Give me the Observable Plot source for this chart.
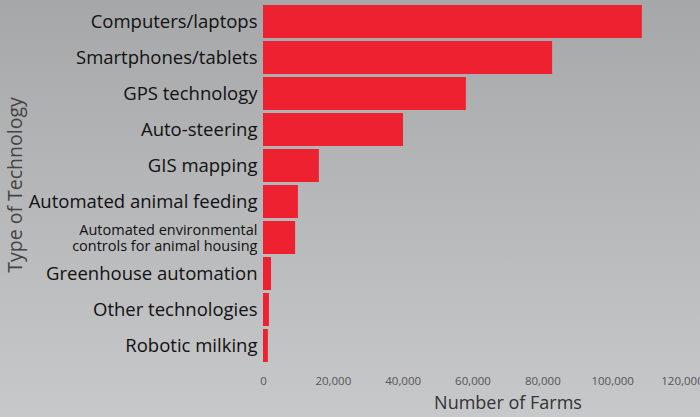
<!DOCTYPE html>
<html>
<head>
<meta charset="utf-8">
<script src="https://cdn.jsdelivr.net/npm/d3@7"></script>
<script src="https://cdn.jsdelivr.net/npm/@observablehq/plot@0.6"></script>
<style>
  html, body { margin: 0; padding: 0; }
  body { width: 700px; height: 417px; overflow: hidden;
    background: linear-gradient(to bottom, #a6a7a9 0%, #b4b5b7 40%, #c7c8ca 100%); }
  #chart svg { display: block; background: transparent; }
</style>
</head>
<body>
<div id="chart"></div>
<script>
const technologies = [
  "Computers/laptops",
  "Smartphones/tablets",
  "GPS technology",
  "Auto-steering",
  "GIS mapping",
  "Automated animal feeding",
  "Automated environmental\ncontrols for animal housing",
  "Greenhouse automation",
  "Other technologies",
  "Robotic milking"
];
const farms = [108500, 82800, 58100, 40100, 16000, 10000, 9200, 2300, 1700, 1400];
const xTicks = [0, 20000, 40000, 60000, 80000, 100000, 120000];

const data = technologies.map((t, i) => ({tech: t, farms: farms[i]}));
const fmt = d3.format(",");

const plot = Plot.plot({
  width: 700,
  height: 417,
  marginLeft: 263,
  marginRight: 18,
  marginTop: 1,
  marginBottom: 51,
  style: {fontFamily: "'Open Sans', sans-serif", background: "transparent"},
  x: {domain: [0, 120000], ticks: xTicks, label: null},
  y: {domain: technologies, label: null, padding: 0.08},
  marks: [
    Plot.ruleX(xTicks, {y1: -3, y2: 363, stroke: "#dcdcdc", strokeWidth: 1.8, y: null}),
    Plot.barX(data, {x: "farms", y: "tech", fill: "#ee2130"}),
    Plot.axisX({ticks: xTicks, tickFormat: fmt, tickSize: 0, tickPadding: 10, fontSize: 11.5, color: "#555", label: null}),
    Plot.axisY({tickSize: 0, tickPadding: 6, fontSize: 18.5, color: "#111", label: null,
      tickFormat: d => d,
      lineHeight: 1.05}),
    Plot.text(["Number of Farms"], {frameAnchor: "bottom", dx: 35, dy: 42, fontSize: 18, fill: "#333", x: null, y: null}),
    Plot.text(["Type of Technology"], {frameAnchor: "left", textAnchor: "middle", dx: -248, dy: 1, rotate: -90, fontSize: 19.5, fill: "#444"})
  ]
});
document.getElementById("chart").appendChild(plot);

// the two-line label is set smaller, as in the reference
d3.select(plot).selectAll("text").each(function() {
  const t = this.textContent;
  if (t.startsWith("Automated environmental")) {
    d3.select(this).attr("font-size", 14.5);
  }
});
</script>
</body>
</html>
